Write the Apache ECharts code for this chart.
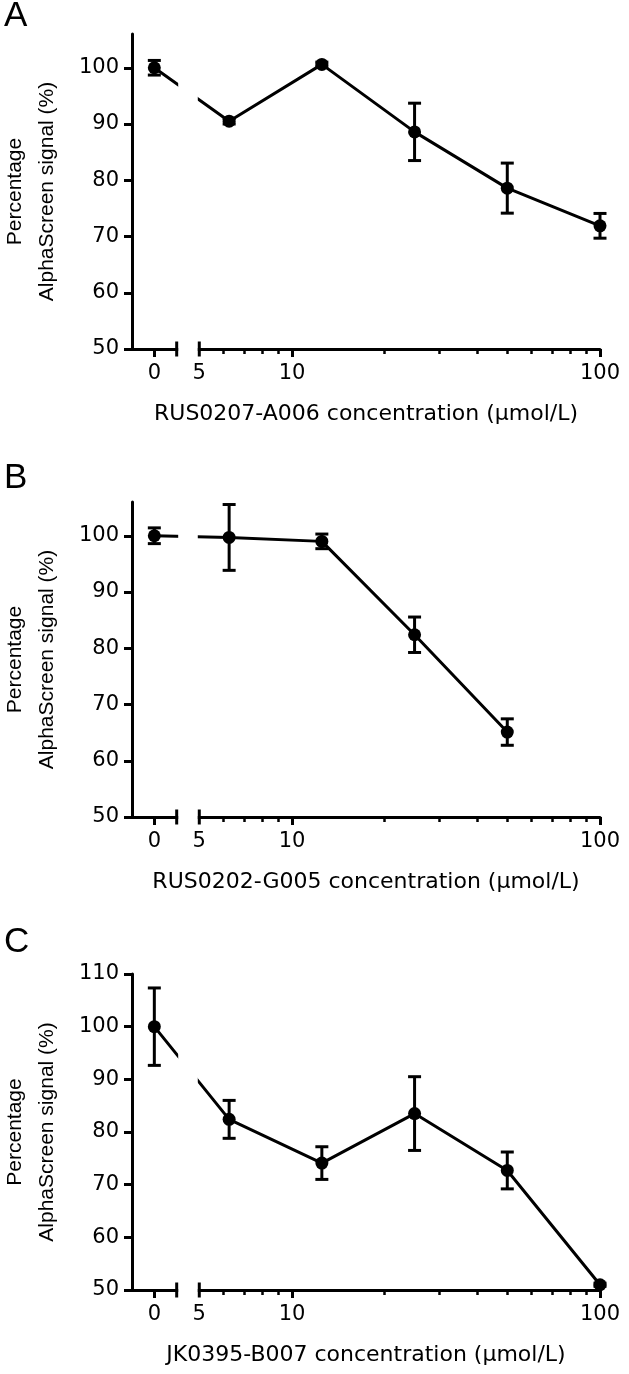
<!DOCTYPE html>
<html>
<head>
<meta charset="utf-8">
<script src="https://cdn.jsdelivr.net/npm/echarts@6/dist/echarts.min.js"></script>
<style>
html,body{margin:0;padding:0;background:#fff;}
#chart{width:629px;height:1374px;}
</style>
</head>
<body>
<div id="chart"></div>
<script>
// ---- data ----
const PANEL_LETTERS = ['A', 'B', 'C'];
const X_TITLES = ['RUS0207-A006 concentration (\u03bcmol/L)', 'RUS0202-G005 concentration (\u03bcmol/L)', 'JK0395-B007 concentration (\u03bcmol/L)'];
const Y_TITLE = 'Percentage\nAlphaScreen signal (%)';

const A_CONC = [0, 6.25, 12.5, 25, 50, 100];
const A_MEAN = [100, 90.5, 100.6, 88.6, 78.6, 71.9];
const A_ERR  = [1.3, 0.5, 0.4, 5.1, 4.45, 2.2];

const B_CONC = [0, 6.25, 12.5, 25, 50];
const B_MEAN = [100, 99.7, 99.0, 82.4, 65.1];
const B_ERR  = [1.4, 5.85, 1.3, 3.15, 2.35];

const C_CONC = [0, 6.25, 12.5, 25, 50, 100];
const C_MEAN = [100, 82.4, 74.1, 83.5, 72.7, 51];
const C_ERR  = [7.35, 3.6, 3.1, 7.0, 3.5, 0.3];

const X_MAJOR_TICKS = [0, 10, 100];
const X_LABELS = [0, 5, 10, 100];
const X_MINOR_TICKS = [6, 7, 8, 9, 20, 30, 40, 50, 60, 70, 80, 90];
const Y_TICKS_AB = [50, 60, 70, 80, 90, 100];
const Y_TICKS_C = [50, 60, 70, 80, 90, 100, 110];

// ---- broken axis layout: linear axis in log10 units, with a separate "0" segment ----
const U_MIN = 0.4805;      // left end (y axis)
const U_ZERO = 0.553;      // where concentration 0 is placed
const U_BREAK_END = 0.6256;// end of the "0" segment
const LOG_START = 5;       // start of the log segment
const U_MAX = 2;           // log10(100)
const toU = c => c > 0 ? Math.log10(c) : U_ZERO;

const panels = [
  {conc: A_CONC, mean: A_MEAN, err: A_ERR, yMax: 106, yTicks: Y_TICKS_AB, top: 34, height: 315},
  {conc: B_CONC, mean: B_MEAN, err: B_ERR, yMax: 106, yTicks: Y_TICKS_AB, top: 502, height: 315},
  {conc: C_CONC, mean: C_MEAN, err: C_ERR, yMax: 110, yTicks: Y_TICKS_C, top: 974, height: 316}
];
const letterY = [20, 482, 946];

const grid = [], xAxis = [], yAxis = [], series = [], graphic = [];
const tickFont = 'DejaVu Sans';

panels.forEach((p, i) => {
  grid.push({left: 132, width: 468, top: p.top, height: p.height, containLabel: false, outerBoundsMode: 'none'});
  const fmt = v => Math.abs(v - U_ZERO) < 1e-6 ? '0' : String(Math.round(Math.pow(10, v)));
  xAxis.push({
    type: 'value', gridIndex: i, min: U_MIN, max: U_MAX, position: 'bottom',
    axisLine: {show: true, onZero: false, lineStyle: {color: '#000', width: 3}},
    axisTick: {show: true, length: 8, lineStyle: {color: '#000', width: 3},
      customValues: X_MAJOR_TICKS.map(toU)},
    axisLabel: {show: true, margin: 14, color: '#000', fontFamily: tickFont, fontSize: 21,
      customValues: X_LABELS.map(toU), formatter: fmt},
    splitLine: {show: false},
    name: X_TITLES[i], nameLocation: 'middle', nameGap: 65,
    nameTextStyle: {color: '#000', fontFamily: tickFont, fontSize: 22, align: 'center', verticalAlign: 'middle'}
  });
  xAxis.push({
    type: 'value', gridIndex: i, min: U_MIN, max: U_MAX, position: 'bottom',
    axisLine: {show: false, onZero: false},
    axisTick: {show: true, length: 5, lineStyle: {color: '#000', width: 2.5},
      customValues: X_MINOR_TICKS.map(toU)},
    axisLabel: {show: false},
    splitLine: {show: false}
  });
  yAxis.push({
    type: 'value', gridIndex: i, min: 50, max: p.yMax,
    axisLine: {show: true, onZero: false, lineStyle: {color: '#000', width: 3}},
    axisTick: {show: true, length: 8, lineStyle: {color: '#000', width: 3}, customValues: p.yTicks},
    axisLabel: {show: true, margin: 13, color: '#000', fontFamily: tickFont, fontSize: 21, customValues: p.yTicks},
    splitLine: {show: false},
    name: Y_TITLE, nameLocation: 'middle', nameGap: 101, nameRotate: 90,
    nameTextStyle: {color: '#000', fontFamily: 'Liberation Sans', fontSize: 21, lineHeight: 32, align: 'center', verticalAlign: 'middle'}
  });

  const pts = p.conc.map((c, k) => [toU(c), p.mean[k]]);
  series.push({
    type: 'line', xAxisIndex: 2 * i, yAxisIndex: i, data: pts, z: 2,
    symbol: 'circle', symbolSize: 13, showSymbol: true,
    itemStyle: {color: '#000'}, lineStyle: {color: '#000', width: 3},
    emphasis: {disabled: true}, animation: false, clip: false
  });
  // axis break: white gap hiding axis line and data line, with end caps
  series.push({
    type: 'custom', xAxisIndex: 2 * i, yAxisIndex: i, z: 3, animation: false, silent: true,
    data: [[U_BREAK_END, Math.log10(LOG_START)]],
    renderItem: (params, api) => {
      const a = api.coord([api.value(0), 50]);
      const b = api.coord([api.value(1), 50]);
      const t = api.coord([api.value(0), p.yMax]);
      return {type: 'group', children: [
        {type: 'rect', shape: {x: a[0] + 1.5, y: t[1] - 2, width: b[0] - a[0] - 3, height: a[1] - t[1] + 6},
          style: {fill: '#fff'}},
        {type: 'line', shape: {x1: a[0], y1: a[1] - 7.5, x2: a[0], y2: a[1] + 7.5}, style: {stroke: '#000', lineWidth: 3}},
        {type: 'line', shape: {x1: b[0], y1: b[1] - 7.5, x2: b[0], y2: b[1] + 7.5}, style: {stroke: '#000', lineWidth: 3}}
      ]};
    }
  });
  // error bars
  series.push({
    type: 'custom', xAxisIndex: 2 * i, yAxisIndex: i, z: 4, animation: false, silent: true,
    data: p.conc.map((c, k) => [toU(c), p.mean[k], p.err[k]]),
    renderItem: (params, api) => {
      const x = api.value(0), m = api.value(1), e = api.value(2);
      const hi = api.coord([x, m + e]);
      const lo = api.coord([x, m - e]);
      const hw = 6.5;
      const st = {stroke: '#000', lineWidth: 3};
      return {type: 'group', children: [
        {type: 'line', shape: {x1: hi[0], y1: hi[1], x2: lo[0], y2: lo[1]}, style: st},
        {type: 'line', shape: {x1: hi[0] - hw, y1: hi[1], x2: hi[0] + hw, y2: hi[1]}, style: st},
        {type: 'line', shape: {x1: lo[0] - hw, y1: lo[1], x2: lo[0] + hw, y2: lo[1]}, style: st}
      ]};
    }
  });
  graphic.push({type: 'text', left: 4, top: letterY[i] - 21,
    style: {text: PANEL_LETTERS[i], fill: '#000', font: '35px "Liberation Sans"'}});
});

const chart = echarts.init(document.getElementById('chart'), null, {renderer: 'canvas'});
chart.setOption({
  backgroundColor: '#fff',
  animation: false,
  grid, xAxis, yAxis, series, graphic,
  tooltip: {show: false}
});
</script>
</body>
</html>
